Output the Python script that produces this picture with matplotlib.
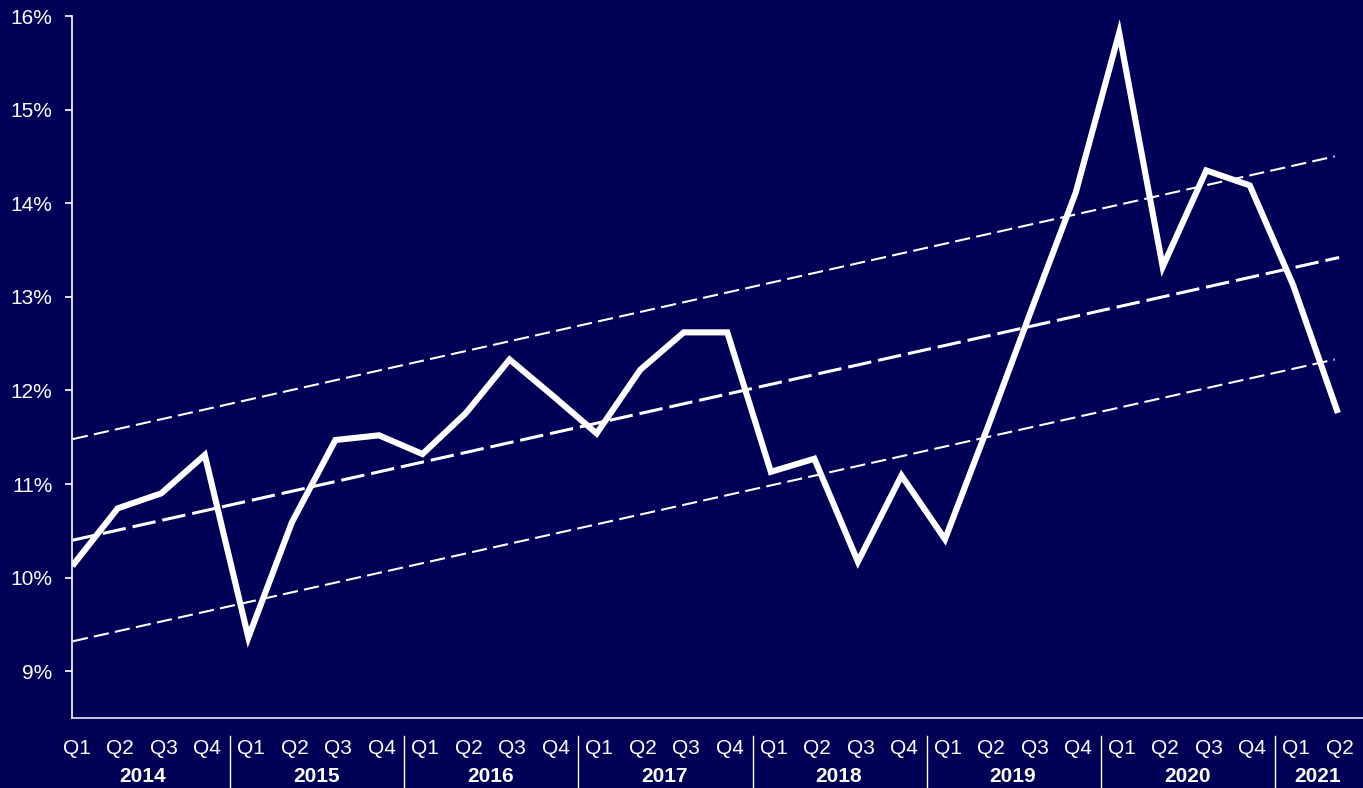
import matplotlib
matplotlib.use("Agg")
import matplotlib.pyplot as plt
import matplotlib.transforms as mtransforms
import numpy as np

years = ['2014', '2015', '2016', '2017', '2018', '2019', '2020', '2021']
quarters_per_year = [4, 4, 4, 4, 4, 4, 4, 2]

# quarterly values, %
values = [10.15, 10.74, 10.90, 11.31,
          9.36, 10.59, 11.47, 11.52,
          11.32, 11.76, 12.33, 11.94,
          11.54, 12.22, 12.62, 12.62,
          11.13, 11.27, 10.17, 11.09,
          10.41, 11.63, 12.88, 14.11,
          15.82, 13.32, 14.35, 14.19,
          13.12, 11.79]

# trend channel: upper, middle, lower (start/end values and x span)
trend_x0 = [-0.03, -0.03, -0.03]
trend_x1 = [28.95, 29.05, 28.95]
trend_y0 = [11.48, 10.40, 9.32]
trend_y1 = [14.50, 13.42, 12.33]

bg = '#000057'
plt.rcParams['font.family'] = ['Liberation Sans', 'DejaVu Sans']
plt.rcParams['lines.scale_dashes'] = False

fig = plt.figure(figsize=(13.63, 7.88), dpi=100)
fig.patch.set_facecolor(bg)
ax = fig.add_axes([72/1363, 1 - 718/788, 1 - 72/1363, (718 - 16)/788])
ax.set_facecolor(bg)

x = np.arange(len(values))

# trend lines
styles = [dict(lw=1.5, dashes=(11, 4.5)),
          dict(lw=2.2, dashes=(17, 5)),
          dict(lw=1.5, dashes=(11, 4.5))]
for i in range(3):
    ax.plot([trend_x0[i], trend_x1[i]], [trend_y0[i], trend_y1[i]],
            color='white', **styles[i])

ax.plot(x, values, color='white', lw=4.4, solid_joinstyle='miter', zorder=5)

ax.set_xlim(-0.05, 29.6)
ax.set_ylim(8.5, 16)
ax.set_yticks(range(9, 17))
ax.set_yticklabels([f'{v}%' for v in range(9, 17)])
ax.tick_params(axis='y', colors='white', labelsize=15, length=5, width=1.2, pad=9)

for s in ['top', 'right']:
    ax.spines[s].set_visible(False)
ax.spines['left'].set_color('white')
ax.spines['left'].set_linewidth(1.2)
ax.spines['bottom'].set_color('#e6e6f0')
ax.spines['bottom'].set_linewidth(1.2)

# quarter labels
qlabels = []
for n in quarters_per_year:
    qlabels += [f'Q{k + 1}' for k in range(n)]
ax.set_xticks(x + 0.06)
ax.set_xticklabels(qlabels)
ax.tick_params(axis='x', colors='white', labelsize=15, length=0, pad=22)
for lab in ax.get_xticklabels():
    lab.set_va('center')

trans = mtransforms.blended_transform_factory(ax.transData, ax.transAxes)
start = 0
for i, (yr, n) in enumerate(zip(years, quarters_per_year)):
    mid = start + (n - 1) / 2 + 0.06
    ax.text(mid, -0.083, yr, transform=trans, ha='center', va='center',
            color='white', fontsize=15, fontweight='bold')
    if i > 0:
        sep = start - 0.42
        ax.plot([sep, sep], [-0.026, -0.11], transform=trans, color='white',
                lw=1, clip_on=False)
    start += n

fig.savefig('out.png', dpi=100, facecolor=bg)
